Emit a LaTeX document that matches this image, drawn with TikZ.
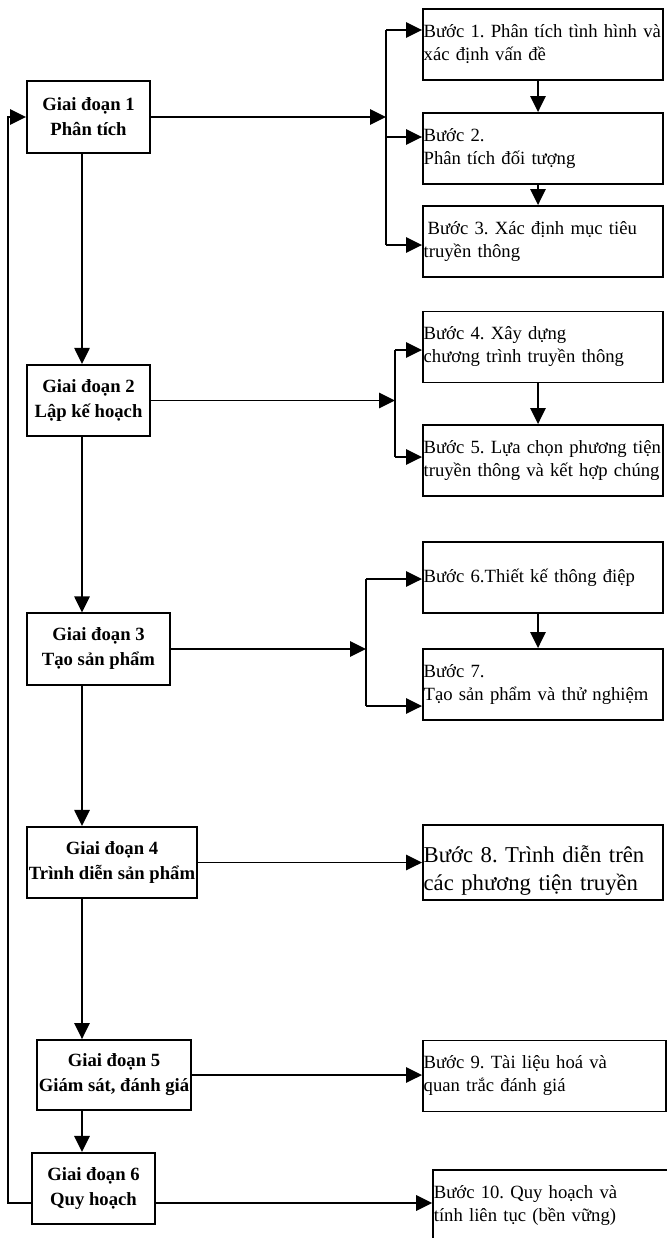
\documentclass[tikz,border=0pt]{standalone}
\usepackage{fontspec}
\setmainfont{Liberation Serif}
\usetikzlibrary{arrows.meta}

\newcommand{\stepfont}{\fontsize{14}{17.25}\selectfont\frenchspacing}
\newcommand{\stagefont}{\fontsize{14}{18.75}\selectfont\bfseries}
\newcommand{\bigstepfont}{\fontsize{17}{21}\selectfont\frenchspacing}

\begin{document}
\begin{tikzpicture}[
    x=0.75pt, y=-0.75pt,
    % Stijl voor de giai doan (links)
    stage/.style={rectangle, draw, line width=1.4pt, font=\stagefont,
                  align=center, inner sep=0pt, minimum height=53.5pt},
    % Stijl voor de buoc (rechts)
    stepbox/.style={rectangle, draw, line width=1.4pt, font=\stepfont,
                    align=left, text width=179pt, inner xsep=0.5pt,
                    minimum width=180pt, minimum height=53.25pt},
    link/.style={line width=1.4pt},
    arrow/.style={-{Triangle[length=12pt,width=11.5pt]}, line width=1.4pt}
]
\useasboundingbox (0,0) rectangle (667,1238);
\clip (0,0) rectangle (667,1238);

% --- Kolom 1: giai doan ---
\node[stage, minimum width=92.25pt] (g1) at (88.5,117) {Giai đoạn 1\\Phân tích};
\node[stage, minimum width=92.25pt] (g2) at (88.5,400.5) {Giai đoạn 2\\Lập kế hoạch};
\node[stage, minimum width=107.25pt] (g3) at (98.5,649) {Giai đoạn 3\\Tạo sản phẩm};
\node[stage, minimum width=127.5pt] (g4) at (112,862.5) {Giai đoạn 4\\Trình diễn sản phẩm};
\node[stage, minimum width=115.5pt, minimum height=52.5pt] (g5) at (114,1075) {Giai đoạn 5\\Giám sát, đánh giá};
\node[stage, minimum width=92.25pt] (g6) at (93.5,1188.5) {Giai đoạn 6\\Quy hoạch};

% --- Kolom 2: buoc ---
\node[stepbox] (b1) at (543,44.5) {Bước 1. Phân tích tình hình và\\xác định vấn đề};
\node[stepbox] (b2) at (543,148.5) {Bước 2.\\Phân tích đối tượng};
\node[stepbox] (b3) at (543,241.5) {\hspace*{3pt}Bước 3. Xác định mục tiêu\\truyền thông};
\node[stepbox] (b4) at (543,347) {Bước 4. Xây dựng\\chương trình truyền thông};
\node[stepbox] (b5) at (543,460.5) {Bước 5. Lựa chọn phương tiện\\truyền thông và kết hợp chúng};
\node[stepbox] (b6) at (543,577.5) {Bước 6.Thiết kế thông điệp};
\node[stepbox] (b7) at (543,684.5) {Bước 7.\\Tạo sản phẩm và thử nghiệm};
\node[stepbox, font=\bigstepfont] (b8) at (543,862.5)
    {\raisebox{0pt}[25pt]{\makebox[178pt][s]{Bước 8. Trình diễn trên}}\\\makebox[178pt][s]{các phương tiện truyền}};
\node[stepbox, text width=181.25pt, minimum width=182.25pt] (b9) at (544.5,1076)
    {Bước 9. Tài liệu hoá và\\quan trắc đánh giá};
\node[stepbox, text width=199pt, minimum width=200pt] (b10) at (566.5,1205.5)
    {Bước 10. Quy hoạch và\\tính liên tục (bền vững)};

% --- Hulppunten voor de vorken ---
\coordinate (f1a) at (386,30);
\coordinate (f1b) at (386,137);
\coordinate (f1c) at (386,245);
\coordinate (f2a) at (395,350);
\coordinate (f2b) at (395,457);
\coordinate (f3a) at (366,579);
\coordinate (f3b) at (366,706);
\coordinate (spine) at (82,0);
\coordinate (drop) at (538,0);
\coordinate (back) at (8,1203);

% --- Pijlen tussen de giai doan ---
\draw[arrow] (g1.south -| spine) -- (g2.north -| spine);
\draw[arrow] (g2.south -| spine) -- (g3.north -| spine);
\draw[arrow] (g3.south -| spine) -- (g4.north -| spine);
\draw[arrow] (g4.south -| spine) -- (g5.north -| spine);
\draw[arrow] (g5.south -| spine) -- (g6.north -| spine);
\draw[arrow] (g6.west |- back) -- (back) |- (g1.west);

% --- Giai doan 1 naar buoc 1-3 ---
\draw[arrow] (g1.east) -- (g1.east -| f1a);
\draw[link] (f1a) -- (f1c);
\draw[arrow] (f1a) -- (f1a -| b1.west);
\draw[arrow] (f1b) -- (f1b -| b2.west);
\draw[arrow] (f1c) -- (f1c -| b3.west);
\draw[arrow] (b1.south -| drop) -- (b2.north -| drop);
\draw[arrow] (b2.south -| drop) -- (b3.north -| drop);

% --- Giai doan 2 naar buoc 4-5 ---
\draw[arrow] (g2.east) -- (g2.east -| f2a);
\draw[link] (f2a) -- (f2b);
\draw[arrow] (f2a) -- (f2a -| b4.west);
\draw[arrow] (f2b) -- (f2b -| b5.west);
\draw[arrow] (b4.south -| drop) -- (b5.north -| drop);

% --- Giai doan 3 naar buoc 6-7 ---
\draw[arrow] (g3.east) -- (g3.east -| f3a);
\draw[link] (f3a) -- (f3b);
\draw[arrow] (f3a) -- (f3a -| b6.west);
\draw[arrow] (f3b) -- (f3b -| b7.west);
\draw[arrow] (b6.south -| drop) -- (b7.north -| drop);

% --- Giai doan 4-6 naar buoc 8-10 ---
\draw[arrow] (g4.east) -- (g4.east -| b8.west);
\draw[arrow] (g5.east) -- (g5.east -| b9.west);
\draw[arrow] (g6.east |- back) -- (b10.west |- back);

\end{tikzpicture}
\end{document}
